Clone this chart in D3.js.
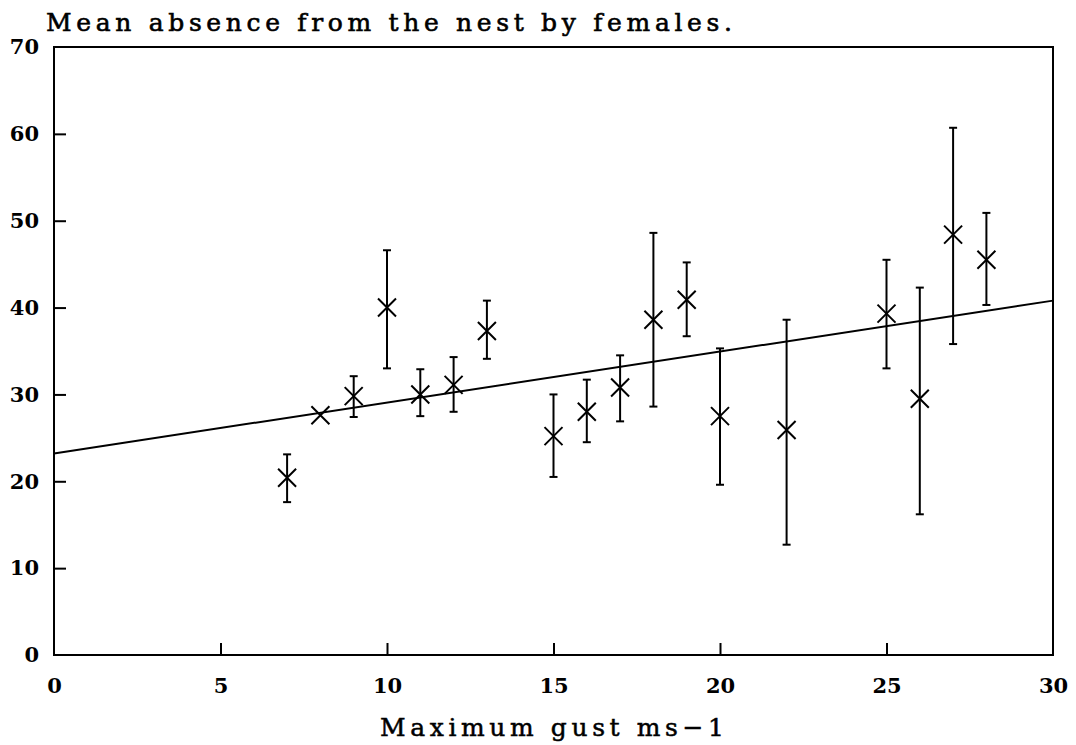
<!DOCTYPE html>
<html>
<head>
<meta charset="utf-8">
<script src="https://d3js.org/d3.v7.min.js"></script>
<style>
  body { margin: 0; background: #fff; }
  svg text { font-family: "DejaVu Serif", serif; fill: #000; }
</style>
</head>
<body>
<svg width="1076" height="745"></svg>
<script>
// data
var gust  = [7, 8, 9, 10, 11, 12, 13, 15, 16, 17, 18, 19, 20, 22, 25, 26, 27, 28];
var mean  = [20.4, 27.6, 29.8, 40.0, 30.0, 31.1, 37.3, 25.2, 28.0, 30.8, 38.6, 40.9, 27.5, 25.9, 39.3, 29.5, 48.4, 45.5];
var upper = [23.1, null, 32.1, 46.6, 32.9, 34.3, 40.8, 30.0, 31.7, 34.5, 48.6, 45.2, 35.3, 38.6, 45.5, 42.3, 60.7, 50.9];
var lower = [17.6, null, 27.4, 33.0, 27.5, 28.0, 34.1, 20.5, 24.5, 26.9, 28.6, 36.7, 19.6, 12.7, 33.0, 16.2, 35.8, 40.3];

// fitted line end points
var fitX = [0, 30];
var fitY = [23.2, 40.8];

var xTicks = [0, 5, 10, 15, 20, 25, 30];
var yTicks = [0, 10, 20, 30, 40, 50, 60, 70];

var svg = d3.select("svg");

var x = d3.scaleLinear().domain([0, 30]).range([54, 1053]);
var y = d3.scaleLinear().domain([0, 70]).range([655, 47]);

var points = gust.map(function(g, i) {
    return { x: g, m: mean[i], hi: upper[i], lo: lower[i] };
});

// frame
svg.append("rect")
    .attr("x", x(0))
    .attr("y", y(70))
    .attr("width", x(30) - x(0))
    .attr("height", y(0) - y(70))
    .style("fill", "none")
    .style("stroke", "#000")
    .style("stroke-width", 2);

// axes, ticks pointing inwards
var xAxis = svg.append("g")
    .attr("transform", "translate(0," + y(0) + ")")
    .call(d3.axisBottom(x).tickValues(xTicks).tickSizeInner(-12).tickSizeOuter(0).tickPadding(23));
var yAxis = svg.append("g")
    .attr("transform", "translate(" + x(0) + ",0)")
    .call(d3.axisLeft(y).tickValues(yTicks).tickSizeInner(-12).tickSizeOuter(0).tickPadding(15));

[xAxis, yAxis].forEach(function(a) {
    a.select(".domain").remove();
    a.selectAll("line").style("stroke", "#000").style("stroke-width", 2);
    a.selectAll("text")
        .style("font-family", "DejaVu Serif")
        .style("font-size", "21px")
        .style("font-weight", "bold");
});
// no ticks drawn on the frame ends
xAxis.selectAll(".tick line").filter(function(d) { return d === 0 || d === 30; }).remove();
yAxis.selectAll(".tick line").filter(function(d) { return d === 0 || d === 70; }).remove();

// regression line
svg.append("line")
    .attr("x1", x(fitX[0])).attr("y1", y(fitY[0]))
    .attr("x2", x(fitX[1])).attr("y2", y(fitY[1]))
    .style("stroke", "#000")
    .style("stroke-width", 2);

// error bars
var bars = svg.append("g")
    .selectAll("g")
    .data(points.filter(function(d) { return d.hi !== null; }))
    .enter().append("g")
    .style("stroke", "#000")
    .style("stroke-width", 2);

bars.append("line")
    .attr("x1", function(d) { return x(d.x); })
    .attr("x2", function(d) { return x(d.x); })
    .attr("y1", function(d) { return y(d.hi); })
    .attr("y2", function(d) { return y(d.lo); });
bars.append("line")
    .attr("x1", function(d) { return x(d.x) - 4; })
    .attr("x2", function(d) { return x(d.x) + 4; })
    .attr("y1", function(d) { return y(d.hi); })
    .attr("y2", function(d) { return y(d.hi); });
bars.append("line")
    .attr("x1", function(d) { return x(d.x) - 4; })
    .attr("x2", function(d) { return x(d.x) + 4; })
    .attr("y1", function(d) { return y(d.lo); })
    .attr("y2", function(d) { return y(d.lo); });

// x markers
var s = 9;
svg.append("g")
    .selectAll("path")
    .data(points)
    .enter().append("path")
    .attr("d", function(d) {
        var cx = x(d.x), cy = y(d.m);
        return "M" + (cx - s) + "," + (cy - s) + "L" + (cx + s) + "," + (cy + s) +
               "M" + (cx - s) + "," + (cy + s) + "L" + (cx + s) + "," + (cy - s);
    })
    .style("fill", "none")
    .style("stroke", "#000")
    .style("stroke-width", 2);

// titles
svg.append("text")
    .attr("x", 46)
    .attr("y", 31)
    .attr("textLength", 686)
    .attr("lengthAdjust", "spacing")
    .style("font-size", "25px")
    .style("stroke", "#000")
    .style("stroke-width", 0.6)
    .text("Mean absence from the nest by females.");

svg.append("text")
    .attr("x", 380)
    .attr("y", 736)
    .attr("textLength", 344)
    .attr("lengthAdjust", "spacing")
    .style("font-size", "25px")
    .style("stroke", "#000")
    .style("stroke-width", 0.5)
    .text("Maximum gust ms\u22121");
</script>
</body>
</html>
